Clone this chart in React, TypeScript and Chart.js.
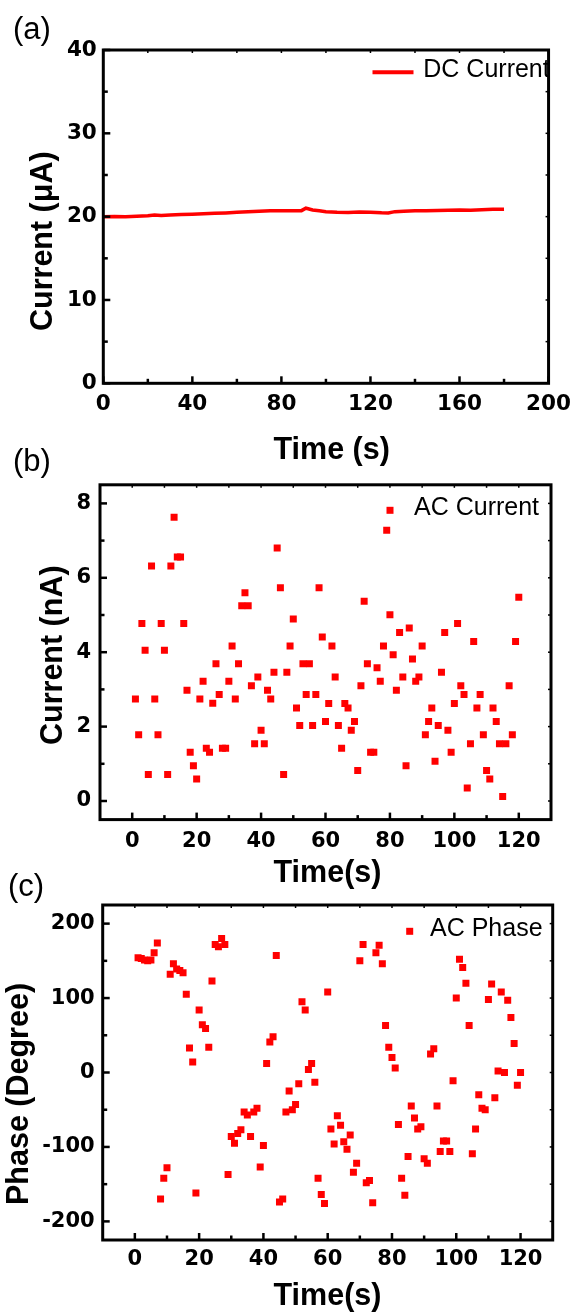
import React, { useEffect, useRef } from "react";
import { Chart, registerables } from "chart.js";

Chart.register(...registerables);

// ---------- data ----------
const DC_TIME = [0, 5, 10, 15, 20, 23, 26, 30, 35, 40, 45, 50, 55, 60, 65, 70, 75, 80, 85, 89, 91, 92, 94, 97, 100, 105, 110, 115, 120, 125, 128, 131, 135, 140, 145, 150, 155, 160, 165, 170, 175, 180];
const DC_CURRENT = [20.0, 20.02, 20.0, 20.05, 20.12, 20.2, 20.15, 20.2, 20.25, 20.3, 20.35, 20.4, 20.45, 20.52, 20.58, 20.65, 20.7, 20.7, 20.7, 20.72, 21.02, 20.95, 20.8, 20.7, 20.6, 20.52, 20.5, 20.55, 20.52, 20.46, 20.45, 20.6, 20.65, 20.7, 20.72, 20.75, 20.78, 20.8, 20.78, 20.82, 20.88, 20.9];

const AC_TIME = [
  1, 2, 3, 4, 5, 6, 7, 8, 9, 10, 11, 12, 13, 14, 15, 16, 17, 18, 19, 20,
  21, 22, 23, 24, 25, 26, 27, 28, 29, 30, 31, 32, 33, 34, 35, 36, 37, 38, 39, 40,
  41, 42, 43, 44, 45, 46, 47, 48, 49, 50, 51, 52, 53, 54, 55, 56, 57, 58, 59, 60,
  61, 62, 63, 64, 65, 66, 67, 68, 69, 70, 71, 72, 73, 74, 75, 76, 77, 78, 79, 80,
  81, 82, 83, 84, 85, 86, 87, 88, 89, 90, 91, 92, 93, 94, 95, 96, 97, 98, 99, 100,
  101, 102, 103, 104, 105, 106, 107, 108, 109, 110, 111, 112, 113, 114, 115, 116, 117, 118, 119, 120,
];

const AC_CURRENT = [
  2.74, 1.78, 4.77, 4.05, 0.71, 6.32, 2.74, 1.78, 4.77, 4.05,
  0.71, 6.32, 7.63, 6.56, 6.56, 4.77, 2.98, 1.31, 0.95, 0.59,
  2.74, 3.22, 1.42, 1.31, 2.63, 3.69, 2.86, 1.42, 1.42, 3.22,
  4.17, 2.74, 3.69, 5.25, 5.6, 5.25, 3.1, 1.54, 3.33, 1.9,
  1.54, 2.98, 2.74, 3.46, 6.8, 5.73, 0.71, 3.46, 4.17, 4.89,
  2.5, 2.03, 3.69, 2.86, 3.69, 2.03, 2.86, 5.73, 4.41, 2.14,
  2.62, 4.17, 3.33, 2.03, 1.42, 2.62, 2.5, 1.9, 2.14, 0.82,
  3.1, 5.37, 3.69, 1.31, 1.31, 3.58, 3.22, 4.17, 7.28, 5.01,
  3.93, 2.98, 4.53, 3.33, 0.95, 4.65, 3.82, 3.22, 3.33, 4.17,
  1.78, 2.14, 2.5, 1.07, 2.03, 3.46, 4.53, 1.9, 1.31, 2.62,
  4.77, 3.1, 2.86, 0.35, 1.54, 4.29, 2.5, 2.86, 1.78, 0.82,
  0.59, 2.5, 2.14, 1.54, 0.12, 1.54, 3.1, 1.78, 4.29, 5.48,
];

const AC_PHASE = [
  154, 153, 151, 150, 151, 161, 174, -170, -142, -128,
  132, 146, 139, 137, 134, 105, 33, 14, -162, 84,
  64, 59, 34, 123, 172, 169, 180, 172, -137, -86,
  -95, -82, -77, -53, -57, -86, -53, -48, -127, -98,
  12, 41, 48, 157, -174, -170, -53, -25, -50, -43,
  -15, 95, 84, 4, 12, -13, -142, -164, -176, 108,
  -76, -96, -58, -71, -93, -103, -84, -134, -122, 150,
  172, -148, -145, -175, 161, 171, 146, 63, 34, 20,
  6, -70, -142, -165, -113, -45, -61, -76, -73, -116,
  -122, 25, 32, -45, -106, -92, -92, -106, -11, 100,
  152, 141, 120, 63, -109, -76, -30, -48, -50, 98,
  119, -34, 2, 108, 0, 97, 74, 39, -17, 0,
];

const A_X_TICKS = [0, 40, 80, 120, 160, 200];
const A_X_MINOR = [20, 60, 100, 140, 180];
const A_Y_TICKS = [0, 10, 20, 30, 40];
const A_Y_MINOR = [5, 15, 25, 35];
const BC_X_TICKS = [0, 20, 40, 60, 80, 100, 120];
const BC_X_MINOR = [10, 30, 50, 70, 90, 110];
const B_Y_TICKS = [0, 2, 4, 6, 8];
const B_Y_MINOR = [1, 3, 5, 7];
const C_Y_TICKS = [-200, -100, 0, 100, 200];
const C_Y_MINOR = [-150, -50, 50, 150];

// ---------- layout / styles ----------
const W = 579;
const H = 1314;
const RED = "#ff0000";
const TICK_FAMILY = '"DejaVu Sans", sans-serif';
const PLAIN = '"Liberation Sans", Arial, sans-serif';
const X_BOX = 45; // height reserved for x tick labels
const Y_EDGE = 2; // left edge of y tick-label box

type Panel = {
  area: { left: number; top: number; right: number; bottom: number };
  xRange: [number, number];
  yRange: [number, number];
  xTicks: number[];
  xMinor: number[];
  yTicks: number[];
  yMinor: number[];
  tickSize: number;
  xPad: number;
  yPad: number;
  kind: "line" | "points";
  xs: number[];
  ys: number[];
  tag: { text: string; x: number; y: number };
  xTitle: { text: string; x: number; y: number };
  yTitle: { text: string; x: number; y: number };
  legend: { text: string; mx: number; my: number; tx: number; ty: number };
};

const PANELS: Panel[] = [
  {
    area: { left: 103.3, top: 50, right: 554, bottom: 383.3 },
    xRange: [0, 200],
    yRange: [0, 40],
    xTicks: A_X_TICKS,
    xMinor: A_X_MINOR,
    yTicks: A_Y_TICKS,
    yMinor: A_Y_MINOR,
    tickSize: 21.5,
    xPad: 8,
    yPad: 6.5,
    kind: "line",
    xs: DC_TIME,
    ys: DC_CURRENT,
    tag: { text: "(a)", x: 13, y: 38.5 },
    xTitle: { text: "Time (s)", x: 273.5, y: 458.5 },
    yTitle: { text: "Current (\u03bcA)", x: 51.5, y: 331 },
    legend: { text: "DC Current", mx: 393, my: 72.3, tx: 423.3, ty: 70 },
  },
  {
    area: { left: 100, top: 484.8, right: 551, bottom: 819.6 },
    xRange: [-10, 130],
    yRange: [-0.5, 8.5],
    xTicks: BC_X_TICKS,
    xMinor: BC_X_MINOR,
    yTicks: B_Y_TICKS,
    yMinor: B_Y_MINOR,
    tickSize: 21,
    xPad: 9,
    yPad: 9,
    kind: "points",
    xs: AC_TIME,
    ys: AC_CURRENT,
    tag: { text: "(b)", x: 13, y: 470.5 },
    xTitle: { text: "Time(s)", x: 273.5, y: 882 },
    yTitle: { text: "Current (nA)", x: 62, y: 745 },
    legend: { text: "AC Current", mx: 390, my: 510.3, tx: 414, ty: 508 },
  },
  {
    area: { left: 102.7, top: 905, right: 552.7, bottom: 1240 },
    xRange: [-10, 130],
    yRange: [-225, 225],
    xTicks: BC_X_TICKS,
    xMinor: BC_X_MINOR,
    yTicks: C_Y_TICKS,
    yMinor: C_Y_MINOR,
    tickSize: 21,
    xPad: 7,
    yPad: 8,
    kind: "points",
    xs: AC_TIME,
    ys: AC_PHASE,
    tag: { text: "(c)", x: 8, y: 895.5 },
    xTitle: { text: "Time(s)", x: 273.5, y: 1305 },
    yTitle: { text: "Phase (Degree)", x: 28, y: 1205 },
    legend: { text: "AC Phase", mx: 409.7, my: 931.3, tx: 430, ty: 929.5 },
  },
];

const MARK = 7; // square marker side

function makeDecor(p: Panel) {
  return {
    id: "decor",
    afterDraw(chart: any) {
      const ctx: CanvasRenderingContext2D = chart.ctx;
      const { left, top, right, bottom } = chart.chartArea;
      const xs = chart.scales.x;
      const ys = chart.scales.y;
      const seg = (x1: number, y1: number, x2: number, y2: number) => {
        ctx.beginPath();
        ctx.moveTo(x1, y1);
        ctx.lineTo(x2, y2);
        ctx.stroke();
      };
      ctx.save();
      ctx.strokeStyle = "#000";
      ctx.lineCap = "butt";
      // inward ticks on bottom / left
      ctx.lineWidth = 2.5;
      p.xTicks.forEach((v) => {
        const px = xs.getPixelForValue(v);
        seg(px, bottom, px, bottom - 7);
      });
      p.xMinor.forEach((v) => {
        const px = xs.getPixelForValue(v);
        seg(px, bottom, px, bottom - 4.5);
      });
      p.yTicks.forEach((v) => {
        const py = ys.getPixelForValue(v);
        seg(left, py, left + 7, py);
      });
      p.yMinor.forEach((v) => {
        const py = ys.getPixelForValue(v);
        seg(left, py, left + 4.5, py);
      });
      // small mirror ticks on top / right
      ctx.lineWidth = 1.5;
      [...p.xTicks, ...p.xMinor].forEach((v) => {
        const px = xs.getPixelForValue(v);
        if (px > left + 3 && px < right - 3) seg(px, top, px, top + 3);
      });
      [...p.yTicks, ...p.yMinor].forEach((v) => {
        const py = ys.getPixelForValue(v);
        if (py > top + 3 && py < bottom - 3) seg(right, py, right - 3, py);
      });
      // frame
      ctx.lineWidth = 3;
      ctx.strokeRect(left, top, right - left, bottom - top);

      // legend
      if (p.kind === "line") {
        ctx.strokeStyle = RED;
        ctx.lineWidth = 4;
        seg(p.legend.mx - 20.5, p.legend.my, p.legend.mx + 20.5, p.legend.my);
      } else {
        ctx.fillStyle = RED;
        ctx.fillRect(p.legend.mx - MARK / 2, p.legend.my - MARK / 2, MARK, MARK);
      }
      ctx.fillStyle = "#000";
      ctx.font = `25px ${PLAIN}`;
      ctx.textAlign = "left";
      ctx.textBaseline = "middle";
      ctx.fillText(p.legend.text, p.legend.tx, p.legend.ty);

      // panel tag
      ctx.font = `31px ${PLAIN}`;
      ctx.textBaseline = "alphabetic";
      ctx.fillText(p.tag.text, p.tag.x, p.tag.y);

      // axis titles
      ctx.font = `bold 30.5px ${PLAIN}`;
      ctx.fillText(p.xTitle.text, p.xTitle.x, p.xTitle.y);
      ctx.save();
      ctx.translate(p.yTitle.x, p.yTitle.y);
      ctx.rotate(-Math.PI / 2);
      ctx.textAlign = "left";
      ctx.textBaseline = "alphabetic";
      ctx.fillText(p.yTitle.text, 0, 0);
      ctx.restore();

      ctx.restore();
    },
  };
}

function PanelChart({ p }: { p: Panel }) {
  const ref = useRef<HTMLCanvasElement | null>(null);
  useEffect(() => {
    if (!ref.current) return;
    const tickFont = { family: TICK_FAMILY, size: p.tickSize, weight: "bold" as const };
    const points = p.xs.map((x, i) => ({ x, y: p.ys[i] }));
    const dataset: any =
      p.kind === "line"
        ? {
            data: points,
            showLine: true,
            borderColor: RED,
            backgroundColor: RED,
            borderWidth: 3.5,
            pointRadius: 0,
            tension: 0,
          }
        : {
            data: points,
            showLine: false,
            backgroundColor: RED,
            borderColor: RED,
            pointStyle: "rect",
            pointRadius: MARK / 2 / Math.SQRT1_2,
            pointBorderWidth: 0,
          };
    const yBoxW = p.area.left - Y_EDGE;
    const chart = new Chart(ref.current, {
      type: "scatter",
      data: { datasets: [dataset] },
      options: {
        responsive: false,
        animation: false,
        devicePixelRatio: 1,
        layout: {
          padding: {
            left: Y_EDGE,
            top: p.area.top,
            right: W - p.area.right,
            bottom: H - p.area.bottom - X_BOX,
          },
        },
        plugins: {
          legend: { display: false },
          tooltip: { enabled: false },
          title: { display: false },
        },
        scales: {
          x: {
            type: "linear",
            position: "bottom",
            min: p.xRange[0],
            max: p.xRange[1],
            grid: { display: false, drawTicks: false },
            border: { display: false },
            afterBuildTicks: (s: any) => {
              s.ticks = p.xTicks.map((v) => ({ value: v }));
            },
            afterFit: (s: any) => {
              s.height = X_BOX;
            },
            ticks: {
              padding: p.xPad,
              color: "#000",
              font: tickFont,
              autoSkip: false,
              maxRotation: 0,
              callback: (v: any) => String(v),
            },
          },
          y: {
            type: "linear",
            position: "left",
            min: p.yRange[0],
            max: p.yRange[1],
            grid: { display: false, drawTicks: false },
            border: { display: false },
            afterBuildTicks: (s: any) => {
              s.ticks = p.yTicks.map((v) => ({ value: v }));
            },
            afterFit: (s: any) => {
              s.width = yBoxW;
            },
            ticks: {
              padding: p.yPad,
              color: "#000",
              font: tickFont,
              autoSkip: false,
              callback: (v: any) => String(v),
            },
          },
        },
      } as any,
      plugins: [makeDecor(p)],
    });
    return () => chart.destroy();
  }, [p]);
  return (
    <canvas
      ref={ref}
      width={W}
      height={H}
      style={{ position: "absolute", left: 0, top: 0, width: W, height: H }}
    />
  );
}

export default function App() {
  return (
    <div
      style={{
        position: "absolute",
        left: 0,
        top: 0,
        width: W,
        height: H,
        background: "#fff",
        overflow: "hidden",
      }}
    >
      {PANELS.map((p, i) => (
        <PanelChart key={i} p={p} />
      ))}
    </div>
  );
}
